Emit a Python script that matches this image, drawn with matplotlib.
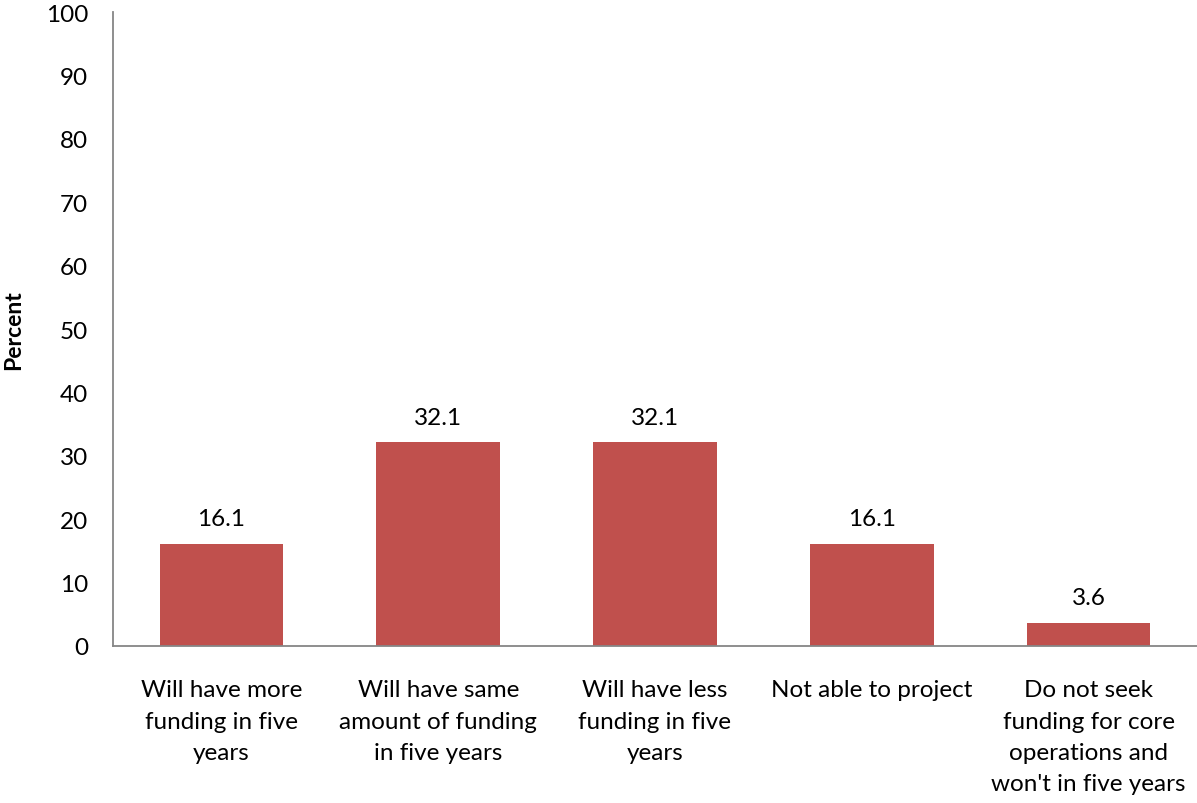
import matplotlib
matplotlib.use("Agg")
import matplotlib.pyplot as plt

# funding outlook survey responses
categories = [
    "Will have more\nfunding in five\nyears",
    "Will have same\namount of funding\nin five years",
    "Will have less\nfunding in five\nyears",
    "Not able to project",
    "Do not seek\nfunding for core\noperations and\nwon't in five years",
]
percent = [16.1, 32.1, 32.1, 16.1, 3.6]
y_ticks = list(range(0, 101, 10))

plt.rcParams['font.family'] = ['Lato', 'DejaVu Sans']
FS = 17.5

fig = plt.figure(figsize=(11.97, 8.04), dpi=100)
ax = fig.add_axes([0.0944, 0.1953, 0.9056, 0.7885])

x = range(len(categories))
bars = ax.bar(x, percent, width=0.57, color="#C0504D")

for rect, v in zip(bars, percent):
    ax.text(rect.get_x() + rect.get_width() / 2, v + 4, f"{v:.1f}",
            ha="center", va="center", fontsize=FS)

ax.set_xlim(-0.5, len(categories) - 0.5)
ax.set_ylim(0, 100)
ax.set_yticks(y_ticks)
ax.set_xticks(list(x))
ax.set_xticklabels(categories, fontsize=FS, linespacing=1.6, va="top")
ax.tick_params(axis="both", length=0, labelsize=FS)
ax.tick_params(axis="x", pad=24)
ax.tick_params(axis="y", pad=18)

for side in ("top", "right"):
    ax.spines[side].set_visible(False)
for side in ("left", "bottom"):
    ax.spines[side].set_color("#868686")
    ax.spines[side].set_linewidth(1.3)

fig.text(14 / 1197, 1 - 330 / 804, "Percent", rotation=90, ha="center",
         va="center", fontsize=16.5, fontweight="bold")

fig.savefig("out.png", dpi=100)
